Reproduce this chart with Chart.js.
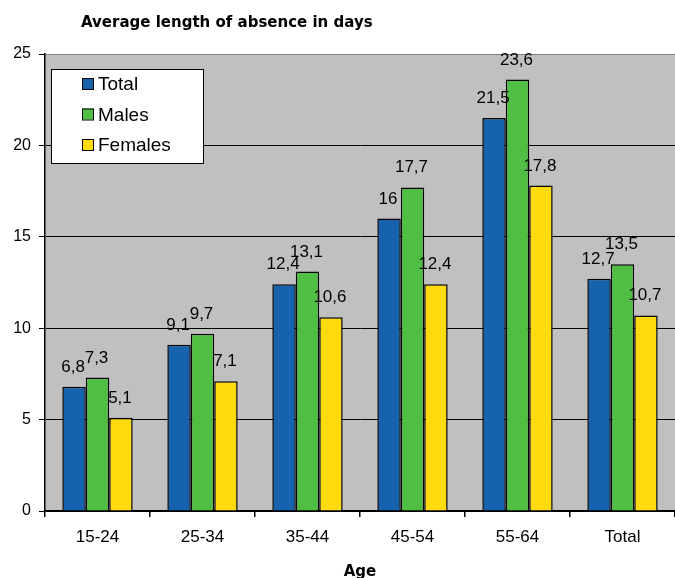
<!DOCTYPE html>
<html>
<head>
<meta charset="utf-8">
<script src="https://cdn.jsdelivr.net/npm/chart.js@4"></script>
<style>
  html, body { margin: 0; padding: 0; background: #fff; }
  #wrap { width: 675px; height: 578px; position: relative; }
</style>
</head>
<body>
<div id="wrap"><canvas id="absenceChart"></canvas></div>
<script>
const ageGroups = ['15-24', '25-34', '35-44', '45-54', '55-64', 'Total'];
const totalDays = [6.8, 9.1, 12.4, 16, 21.5, 12.7];
const malesDays = [7.3, 9.7, 13.1, 17.7, 23.6, 13.5];
const femalesDays = [5.1, 7.1, 10.6, 12.4, 17.8, 10.7];
const seriesNames = ['Total', 'Males', 'Females'];

const chartTitle = 'Average length of absence in days';
const axisTitle = 'Age';

// grey plot area like the old excel charts
const plotBackground = {
    id: 'plotBackground',
    beforeDraw(chart) {
        const { ctx, chartArea } = chart;
        ctx.save();
        ctx.fillStyle = '#c0c0c0';
        ctx.fillRect(chartArea.left, chartArea.top, chartArea.right - chartArea.left, chartArea.bottom - chartArea.top);
        ctx.restore();
    }
};

// value labels above every bar, decimal comma
const barLabels = {
    id: 'barLabels',
    afterDatasetsDraw(chart) {
        const ctx = chart.ctx;
        ctx.save();
        ctx.font = '17px "Liberation Sans", Arial, sans-serif';
        ctx.fillStyle = '#000';
        ctx.textAlign = 'center';
        ctx.textBaseline = 'alphabetic';
        chart.data.datasets.forEach((dataset, i) => {
            const meta = chart.getDatasetMeta(i);
            meta.data.forEach((bar, j) => {
                const text = String(dataset.data[j]).replace('.', ',');
                ctx.fillText(text, bar.x - 1, bar.y - 15);
            });
        });
        ctx.restore();
    }
};

// boxed legend inside the plot, plus the chart title
const boxLegend = {
    id: 'boxLegend',
    afterDraw(chart) {
        const ctx = chart.ctx;
        const left = chart.chartArea.left + 6;
        const top = chart.chartArea.top + 15;
        ctx.save();
        ctx.fillStyle = '#fff';
        ctx.strokeStyle = '#000';
        ctx.lineWidth = 1;
        ctx.fillRect(left, top, 152, 94);
        ctx.strokeRect(left + 0.5, top + 0.5, 152, 94);

        ctx.font = '19px "Liberation Sans", Arial, sans-serif';
        ctx.textBaseline = 'middle';
        ctx.textAlign = 'left';
        chart.data.datasets.forEach((dataset, i) => {
            const cy = top + 15 + i * 30.5;
            ctx.fillStyle = dataset.backgroundColor;
            ctx.fillRect(left + 31, cy - 6, 11, 11);
            ctx.strokeRect(left + 31.5, cy - 5.5, 11, 11);
            ctx.fillStyle = '#000';
            ctx.fillText(dataset.label, left + 47, cy + 1);
        });

        ctx.font = 'bold 15px "DejaVu Sans", sans-serif';
        ctx.textBaseline = 'alphabetic';
        ctx.fillText(chartTitle, 81, 27);
        ctx.restore();
    }
};

const data = {
    labels: ageGroups,
    datasets: [
        { label: seriesNames[0], data: totalDays, backgroundColor: '#1662ad' },
        { label: seriesNames[1], data: malesDays, backgroundColor: '#4fbe42' },
        { label: seriesNames[2], data: femalesDays, backgroundColor: '#ffda0c' }
    ].map(ds => Object.assign(ds, { borderColor: '#000', borderWidth: 1.5, borderSkipped: 'bottom' }))
};

const config = {
    type: 'bar',
    data: data,
    options: {
        responsive: false,
        animation: false,
        layout: { padding: { top: 54, right: 0, bottom: 0, left: 0 } },
        categoryPercentage: 0.67,
        barPercentage: 1.0,
        plugins: {
            legend: { display: false },
            title: { display: false },
            tooltip: { enabled: false }
        },
        scales: {
            x: {
                grid: { drawOnChartArea: false, tickLength: 6, tickColor: '#000', offset: true, lineWidth: 1.5 },
                border: { color: '#000', width: 1.5 },
                ticks: { color: '#000', padding: 10, font: { family: '"Liberation Sans", Arial, sans-serif', size: 17 } },
                title: {
                    display: true,
                    text: axisTitle,
                    color: '#000',
                    padding: { top: 0, bottom: -3 },
                    font: { family: '"DejaVu Sans", sans-serif', size: 15, weight: 'bold' }
                },
                afterFit(scale) { scale.height = 67; }
            },
            y: {
                min: 0,
                max: 25,
                ticks: { stepSize: 5, color: '#000', padding: 8, font: { family: '"Liberation Sans", Arial, sans-serif', size: 16 } },
                grid: {
                    color: ctx => (ctx.tick && ctx.tick.value === 25 ? '#808080' : '#000'),
                    tickColor: '#000',
                    tickLength: 6
                },
                border: { color: '#000', width: 1.5 },
                afterFit(scale) { scale.width = 45; }
            }
        }
    },
    plugins: [plotBackground, barLabels, boxLegend]
};

const canvas = document.getElementById('absenceChart');
canvas.width = 675;
canvas.height = 578;
new Chart(canvas.getContext('2d'), config);
</script>
</body>
</html>
